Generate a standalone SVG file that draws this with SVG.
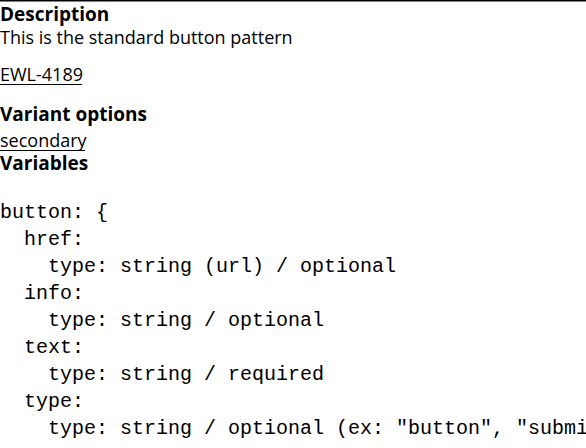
<svg xmlns="http://www.w3.org/2000/svg" width="586" height="448" viewBox="0 0 586 448">
<style>
.h{font-family:"Open Sans","Liberation Sans",sans-serif;font-weight:bold;font-size:19px;fill:#000}
.t{font-family:"Open Sans","Liberation Sans",sans-serif;font-size:18px;fill:#000}
.c{font-family:"Liberation Mono","Courier New",monospace;font-size:20px;fill:#000;white-space:pre}
</style>
<rect width="586" height="448" fill="#fff"/>
<line x1="0" y1="0.75" x2="586" y2="0.75" stroke="#000" stroke-width="1.5"/>
<g id="description">
<text class="h" x="0" y="21">Description</text>
<text class="t" x="0" y="44">This is the standard button pattern</text>
</g>
<g id="link">
<text class="t" x="0" y="81">EWL-4189</text>
<line x1="0" y1="84.5" x2="82" y2="84.5" stroke="#000" stroke-width="1.2"/>
</g>
<g id="variants">
<text class="h" x="0" y="121">Variant options</text>
<text class="t" x="0" y="147">secondary</text>
<line x1="0" y1="150.5" x2="85" y2="150.5" stroke="#000" stroke-width="1.2"/>
</g>
<g id="variables">
<text class="h" x="0" y="170">Variables</text>
<text class="c" xml:space="preserve"><tspan x="0" y="218">button: {</tspan><tspan x="0" y="245">  href:</tspan><tspan x="0" y="272">    type: string (url) / optional</tspan><tspan x="0" y="299">  info:</tspan><tspan x="0" y="326">    type: string / optional</tspan><tspan x="0" y="353">  text:</tspan><tspan x="0" y="380">    type: string / required</tspan><tspan x="0" y="407">  type:</tspan><tspan x="0" y="434">    type: string / optional (ex: "button", "submi</tspan></text>
</g>
</svg>
